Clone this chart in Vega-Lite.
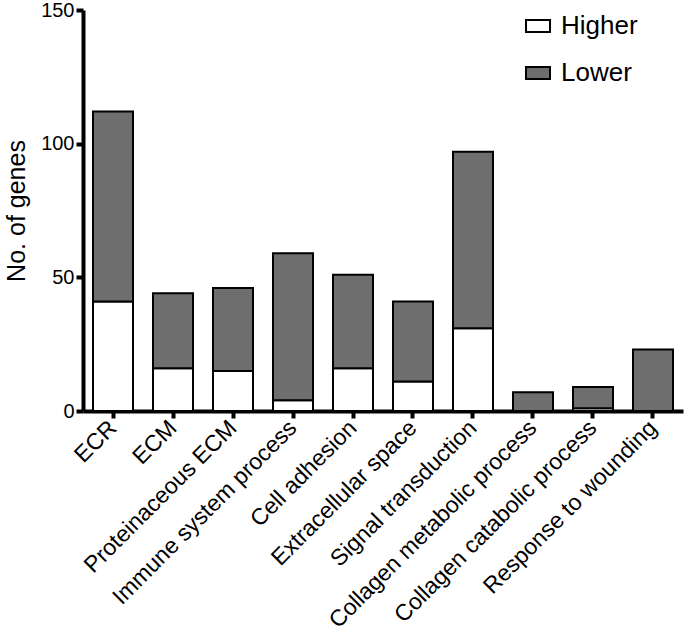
{
  "$schema": "https://vega.github.io/schema/vega-lite/v6.json",
  "autosize": "none",
  "padding": {"left": 83, "top": 10, "right": 5, "bottom": 215},
  "width": 600,
  "height": 401,
  "background": "white",
  "config": {
    "view": {"stroke": null},
    "font": "Liberation Sans",
    "axis": {"grid": false}
  },
  "data": {
    "values": [
      {"term": "ECR", "group": "Higher", "rank": 1, "genes": 41},
      {"term": "ECR", "group": "Lower", "rank": 2, "genes": 71},
      {"term": "ECM", "group": "Higher", "rank": 1, "genes": 16},
      {"term": "ECM", "group": "Lower", "rank": 2, "genes": 28},
      {"term": "Proteinaceous ECM", "group": "Higher", "rank": 1, "genes": 15},
      {"term": "Proteinaceous ECM", "group": "Lower", "rank": 2, "genes": 31},
      {"term": "Immune system process", "group": "Higher", "rank": 1, "genes": 4},
      {"term": "Immune system process", "group": "Lower", "rank": 2, "genes": 55},
      {"term": "Cell adhesion", "group": "Higher", "rank": 1, "genes": 16},
      {"term": "Cell adhesion", "group": "Lower", "rank": 2, "genes": 35},
      {"term": "Extracellular space", "group": "Higher", "rank": 1, "genes": 11},
      {"term": "Extracellular space", "group": "Lower", "rank": 2, "genes": 30},
      {"term": "Signal transduction", "group": "Higher", "rank": 1, "genes": 31},
      {"term": "Signal transduction", "group": "Lower", "rank": 2, "genes": 66},
      {"term": "Collagen metabolic process", "group": "Higher", "rank": 1, "genes": 0},
      {"term": "Collagen metabolic process", "group": "Lower", "rank": 2, "genes": 7},
      {"term": "Collagen catabolic process", "group": "Higher", "rank": 1, "genes": 1},
      {"term": "Collagen catabolic process", "group": "Lower", "rank": 2, "genes": 8},
      {"term": "Response to wounding", "group": "Higher", "rank": 1, "genes": 0},
      {"term": "Response to wounding", "group": "Lower", "rank": 2, "genes": 23}
    ]
  },
  "mark": {"type": "bar", "stroke": "black", "strokeWidth": 2, "strokeJoin": "miter"},
  "encoding": {
    "x": {
      "field": "term",
      "type": "nominal",
      "sort": null,
      "scale": {"paddingInner": 0.3333, "paddingOuter": 0.1667},
      "axis": {
        "title": null,
        "domainColor": "black",
        "domainWidth": 4,
        "tickColor": "black",
        "tickWidth": 4,
        "tickSize": 7,
        "labelAngle": -45,
        "labelAlign": "right",
        "labelBaseline": "middle",
        "labelPadding": 6,
        "labelFontSize": 23,
        "labelColor": "black",
        "labelLimit": 400
      }
    },
    "y": {
      "field": "genes",
      "type": "quantitative",
      "stack": "zero",
      "scale": {"domain": [0, 150], "nice": false},
      "axis": {
        "title": "No. of genes",
        "titleFontSize": 25,
        "titleFontWeight": "normal",
        "titleColor": "black",
        "titlePadding": 11,
        "values": [0, 50, 100, 150],
        "domainColor": "black",
        "domainWidth": 4,
        "tickColor": "black",
        "tickWidth": 4,
        "tickSize": 7,
        "labelFontSize": 20,
        "labelColor": "black",
        "labelPadding": 2
      }
    },
    "order": {"field": "rank", "type": "quantitative"},
    "fill": {
      "field": "group",
      "type": "nominal",
      "scale": {"domain": ["Higher", "Lower"], "range": ["white", "#6e6e6e"]},
      "legend": {
        "title": null,
        "orient": "none",
        "legendX": 442,
        "legendY": 3,
        "padding": 0,
        "symbolType": "M-1,-0.5H1V0.5H-1Z",
        "symbolSize": 576,
        "symbolStrokeColor": "black",
        "symbolStrokeWidth": 2,
        "labelFontSize": 26,
        "labelColor": "black",
        "labelOffset": 10,
        "rowPadding": 21
      }
    }
  }
}
